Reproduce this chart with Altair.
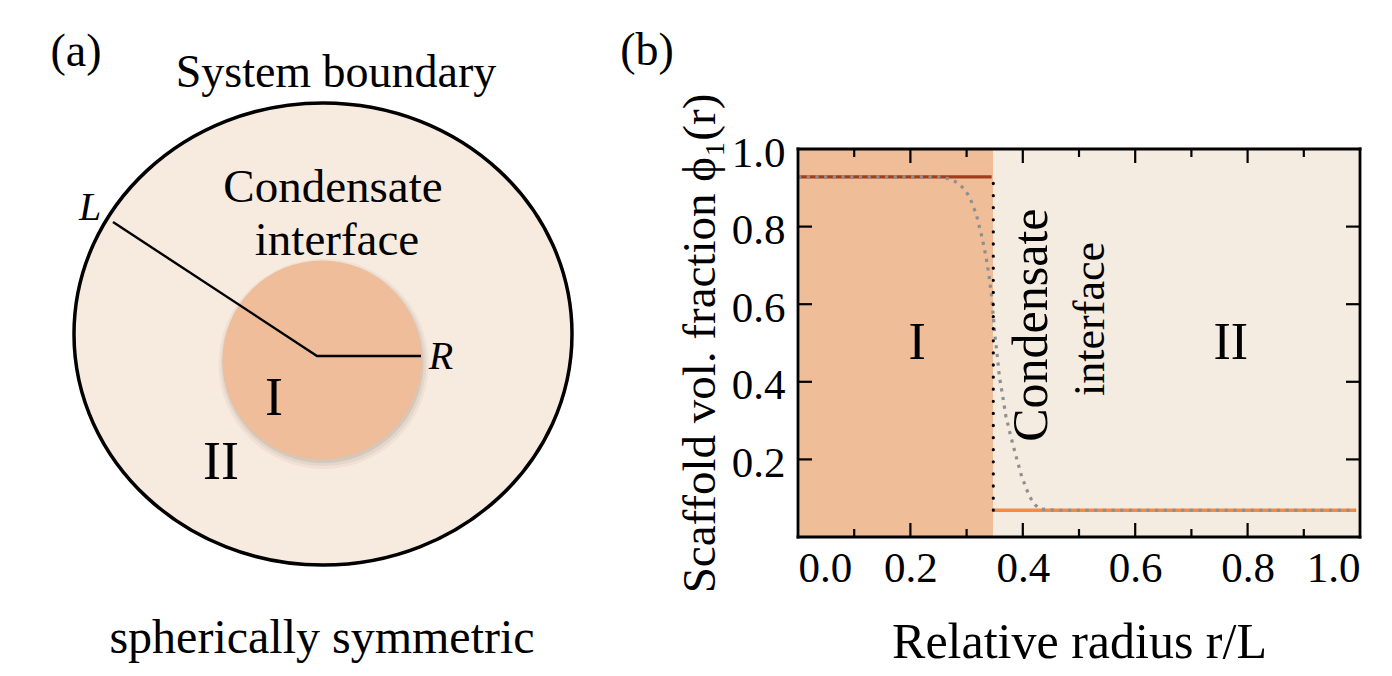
import altair as alt
import pandas as pd

FONT = "Liberation Serif"

# ---------------- Panel (b) data ----------------
region_names = ["I", "II"]
region_x0 = [0.0, 0.3475]
region_x1 = [0.3475, 1.0]
region_colors = ["#efbd98", "#f5ece1"]

dense_x = [0.0, 0.3446]
dense_y = [0.928, 0.928]
dilute_x = [0.3475, 0.993]
dilute_y = [0.069, 0.069]

profile_x = [0.0, 0.253, 0.270, 0.285, 0.297, 0.306, 0.312, 0.318, 0.327, 0.3345,
             0.340, 0.3446, 0.3475, 0.3505, 0.3547, 0.3583, 0.3642, 0.370, 0.3785,
             0.388, 0.398, 0.4116, 0.4217, 0.4306, 0.46, 0.993]
profile_y = [0.928, 0.928, 0.923, 0.912, 0.895, 0.874, 0.852, 0.827, 0.775, 0.723,
             0.672, 0.620, 0.569, 0.517, 0.466, 0.414, 0.363, 0.311, 0.260,
             0.208, 0.156, 0.105, 0.083, 0.072, 0.069, 0.069]

interface_x = [0.3475]
interface_y0 = [0.069]
interface_y1 = [0.928]

x_tick_labels = [0.0, 0.2, 0.4, 0.6, 0.8, 1.0]
y_tick_labels = [0.2, 0.4, 0.6, 0.8, 1.0]
x_major_ticks = [0.2, 0.4, 0.6, 0.8]
x_minor_ticks = [0.1, 0.3, 0.5, 0.7, 0.9]
y_major_ticks = [0.2, 0.4, 0.6, 0.8]

b_labels = ["I", "II"]
b_labels_x = [0.212, 0.77]
b_labels_y = [0.5, 0.5]

b_rot_labels = ["Condensate", "interface"]
b_rot_x = [0.443, 0.545]
b_rot_y = [0.546, 0.562]
b_rot_size = [50, 44]

# ---------------- Panel (a) data (pixel coordinates) ----------------
outer_cx, outer_cy, outer_w, outer_ratio = [323], [331], 498, 0.928
inner_cx, inner_cy, inner_d = [322], [357], 199
shadow_dx = [1.5, 1.5, 1.0]
shadow_dy = [4.0, 3.5, 2.5]
shadow_d = [210, 205, 201]
shadow_op = [0.05, 0.07, 0.10]

radius_x = [113, 317, 421]
radius_y = [219, 353, 353]

a_text = ["(a)", "(b)", "System boundary", "Condensate", "interface", "I", "II",
          "spherically symmetric"]
a_text_x = [76, 647, 336, 333, 337, 274, 221, 322]
a_text_y = [63, 62, 84, 199, 252, 412, 476, 650]
a_text_size = [46, 46, 46, 47, 47, 54, 54, 48]

a_ital = ["L", "R"]
a_ital_x = [90, 441]
a_ital_y = [217, 366]
a_ital_size = [40, 40]

W_A, H_A = 600, 660
W_B, H_B = 562, 388
TOP_B = 138
GAP = 190

# ---------------- Panel (a) ----------------
xa = alt.X("x:Q", scale=alt.Scale(domain=[8, 8 + W_A], nice=False, zero=False), axis=None)
ya = alt.Y("y:Q", scale=alt.Scale(domain=[8, 8 + H_A], nice=False, zero=False, reverse=True), axis=None)

ELLIPSE = f"M-1,0A1,{outer_ratio},0,1,1,1,0A1,{outer_ratio},0,1,1,-1,0Z"

outer = alt.Chart(pd.DataFrame({"x": outer_cx, "y": outer_cy})).mark_point(
    shape=ELLIPSE, filled=True, fill="#f7eadf", stroke="black", strokeWidth=3.5,
    opacity=1, size=outer_w ** 2
).encode(x=xa, y=ya)

shadow_df = pd.DataFrame({
    "x": [inner_cx[0] + d for d in shadow_dx],
    "y": [inner_cy[0] + d for d in shadow_dy],
    "s": [d ** 2 for d in shadow_d],
    "o": shadow_op,
})
shadow = alt.Chart(shadow_df).mark_point(shape="circle", filled=True, color="#5a4030").encode(
    x=xa, y=ya, size=alt.Size("s:Q", scale=None, legend=None),
    opacity=alt.Opacity("o:Q", scale=None, legend=None))

inner = alt.Chart(pd.DataFrame({"x": inner_cx, "y": inner_cy})).mark_point(
    shape="circle", filled=True, fill="#efbd99", strokeWidth=0, opacity=1, size=inner_d ** 2
).encode(x=xa, y=ya)

radius = alt.Chart(pd.DataFrame({"x": radius_x, "y": radius_y, "i": [0, 1, 2]})).mark_line(
    color="black", strokeWidth=2.4
).encode(x=xa, y=ya, order="i:Q")

a_txt = alt.Chart(pd.DataFrame({"x": a_text_x, "y": a_text_y, "t": a_text, "s": a_text_size})).mark_text(
    font=FONT, baseline="alphabetic", align="center", color="black"
).encode(x=xa, y=ya, text="t:N", size=alt.Size("s:Q", scale=None, legend=None))

a_it = alt.Chart(pd.DataFrame({"x": a_ital_x, "y": a_ital_y, "t": a_ital, "s": a_ital_size})).mark_text(
    font=FONT, fontStyle="italic", baseline="alphabetic", align="center", color="black"
).encode(x=xa, y=ya, text="t:N", size=alt.Size("s:Q", scale=None, legend=None))

panel_a = alt.layer(outer, shadow, inner, radius, a_txt, a_it).properties(width=W_A, height=H_A)

# ---------------- Panel (b) ----------------
x_axis = alt.Axis(values=x_tick_labels, format=".1f", ticks=False, tickSize=0, domain=False,
                  grid=False, labelFont=FONT, labelFontSize=43, labelPadding=10,
                  labelColor="black", title="Relative radius r/L", titleFont=FONT,
                  titleFontSize=50, titleFontWeight="normal", titleColor="black",
                  titlePadding=27)
y_axis = alt.Axis(values=y_tick_labels, format=".1f", ticks=False, tickSize=0, domain=False,
                  grid=False, labelFont=FONT, labelFontSize=43, labelPadding=13,
                  labelOffset=4, labelColor="black",
                  title="Scaffold vol. fraction ϕ₁(r)", titleFont=FONT,
                  titleFontSize=47, titleFontWeight="normal", titleColor="black",
                  titlePadding=7)
xs = alt.Scale(domain=[0, 1], nice=False, zero=False)
ys = alt.Scale(domain=[0, 1], nice=False, zero=False)
xb = alt.X("x:Q", scale=xs, axis=x_axis)
yb = alt.Y("y:Q", scale=ys, axis=y_axis)

regions = alt.Chart(pd.DataFrame({"x": region_x0, "x2": region_x1, "c": region_colors,
                                  "n": region_names})).mark_rect().encode(
    x=xb, x2="x2:Q", y=alt.value(0), y2=alt.value(H_B),
    color=alt.Color("c:N", scale=None, legend=None))

dense = alt.Chart(pd.DataFrame({"x": [dense_x[0]], "x2": [dense_x[1]], "y": [dense_y[0]]})).mark_rule(
    color="#a23d1b", strokeWidth=3.2).encode(x=xb, x2="x2:Q", y=yb)
dilute = alt.Chart(pd.DataFrame({"x": [dilute_x[0]], "x2": [dilute_x[1]], "y": [dilute_y[0]]})).mark_rule(
    color="#f28b45", strokeWidth=3.4).encode(x=xb, x2="x2:Q", y=yb)

profile = alt.Chart(pd.DataFrame({"x": profile_x, "y": profile_y, "i": list(range(len(profile_x)))})).mark_line(
    color="#8f8f8f", strokeWidth=3.2, strokeDash=[3.2, 5.5]).encode(x=xb, y=yb, order="i:Q")

interface = alt.Chart(pd.DataFrame({"x": interface_x, "y": interface_y0, "y2": interface_y1})).mark_rule(
    color="black", strokeWidth=3.2, strokeCap="round", strokeDash=[0.1, 12]).encode(x=xb, y=yb, y2="y2:Q")

b_txt = alt.Chart(pd.DataFrame({"x": b_labels_x, "y": b_labels_y, "t": b_labels})).mark_text(
    font=FONT, fontSize=52, baseline="middle", align="center", color="black").encode(x=xb, y=yb, text="t:N")

b_rot = alt.Chart(pd.DataFrame({"x": b_rot_x, "y": b_rot_y, "t": b_rot_labels, "s": b_rot_size})).mark_text(
    font=FONT, angle=270, baseline="alphabetic", align="center", color="black").encode(
    x=xb, y=yb, text="t:N", size=alt.Size("s:Q", scale=None, legend=None))

MAJ, MIN = 14, 8
xt_maj = pd.DataFrame({"x": x_major_ticks})
xt_min = pd.DataFrame({"x": x_minor_ticks})
yt_maj = pd.DataFrame({"y": y_major_ticks})
tick_style = dict(color="black", strokeWidth=2.2)
ticks = [
    alt.Chart(xt_maj).mark_rule(**tick_style).encode(x=xb, y=alt.value(H_B), y2=alt.value(H_B - MAJ)),
    alt.Chart(xt_maj).mark_rule(**tick_style).encode(x=xb, y=alt.value(0), y2=alt.value(MAJ)),
    alt.Chart(xt_min).mark_rule(**tick_style).encode(x=xb, y=alt.value(H_B), y2=alt.value(H_B - MIN)),
    alt.Chart(xt_min).mark_rule(**tick_style).encode(x=xb, y=alt.value(0), y2=alt.value(MIN)),
    alt.Chart(yt_maj).mark_rule(**tick_style).encode(y=yb, x=alt.value(0), x2=alt.value(MAJ)),
    alt.Chart(yt_maj).mark_rule(**tick_style).encode(y=yb, x=alt.value(W_B), x2=alt.value(W_B - MAJ)),
]

frame_df = pd.DataFrame({"k": [0]})
frame_style = dict(color="black", strokeWidth=2.8, strokeCap="square")
frame = [
    alt.Chart(frame_df).mark_rule(**frame_style).encode(x=alt.value(0), x2=alt.value(W_B), y=alt.value(0)),
    alt.Chart(frame_df).mark_rule(**frame_style).encode(x=alt.value(0), x2=alt.value(W_B), y=alt.value(H_B)),
    alt.Chart(frame_df).mark_rule(**frame_style).encode(y=alt.value(0), y2=alt.value(H_B), x=alt.value(0)),
    alt.Chart(frame_df).mark_rule(**frame_style).encode(y=alt.value(0), y2=alt.value(H_B), x=alt.value(W_B)),
]

plot_b = alt.layer(regions, dense, dilute, profile, interface, b_txt, b_rot, *ticks, *frame).properties(
    width=W_B, height=H_B)

spacer = alt.Chart(pd.DataFrame({"k": [0]})).mark_point(opacity=0).encode(
    x=alt.value(0), y=alt.value(0)).properties(width=W_B, height=TOP_B)

panel_b = alt.vconcat(spacer, plot_b, spacing=0, bounds="flush")

chart = alt.hconcat(panel_a, panel_b, spacing=GAP, bounds="flush").properties(
    padding=0, background="white"
).configure_view(strokeWidth=0)

chart.save("out.html", embed_options={"renderer": "svg", "actions": False})
